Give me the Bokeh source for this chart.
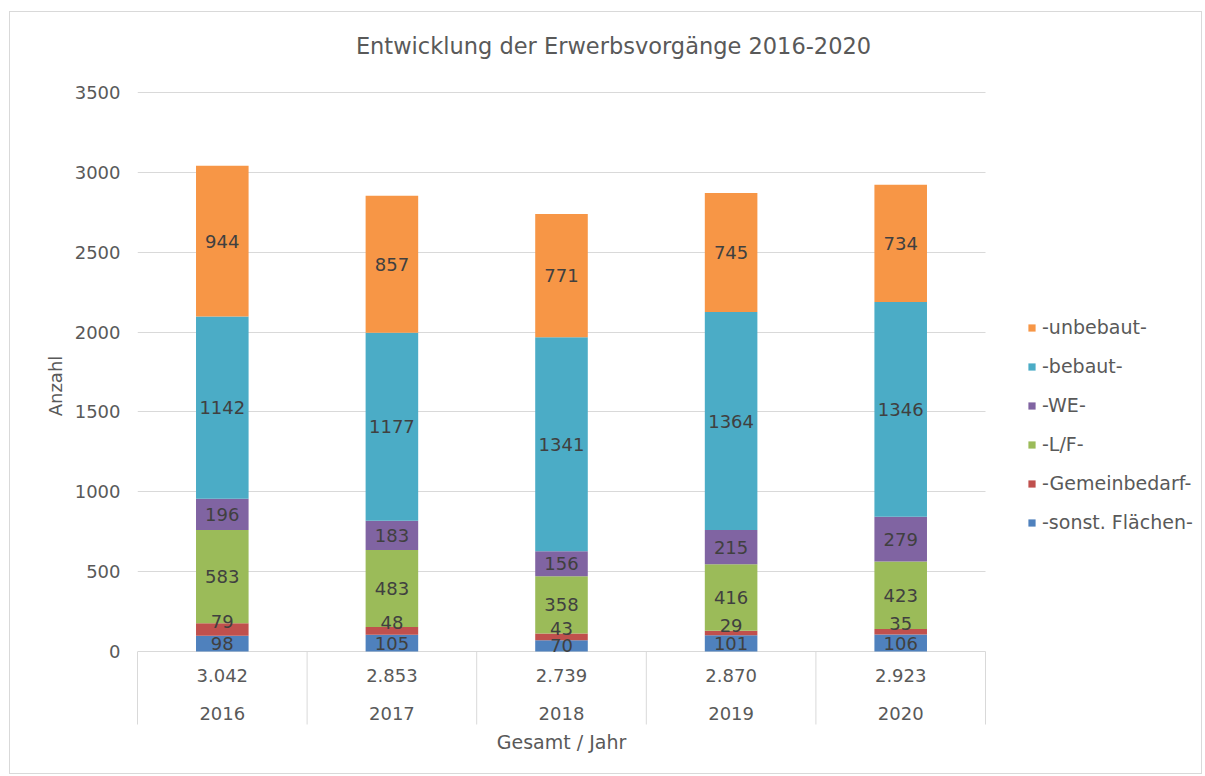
import numpy as np
from bokeh.plotting import figure
from bokeh.models import (ColumnDataSource, Range1d, FixedTicker, Legend, LegendItem,
                          BoxAnnotation)
from bokeh.core.properties import value
from bokeh.embed import file_html
from bokeh.resources import INLINE

# ---- data ----
title_text = "Entwicklung der Erwerbsvorgänge 2016-2020"
x_title = "Gesamt / Jahr"
y_title = "Anzahl"
years = ["2016", "2017", "2018", "2019", "2020"]
sonst = [98, 105, 70, 101, 106]
gemeinbedarf = [79, 48, 43, 29, 35]
lf = [583, 483, 358, 416, 423]
we = [196, 183, 156, 215, 279]
bebaut = [1142, 1177, 1341, 1364, 1346]
unbebaut = [944, 857, 771, 745, 734]
series_names = ["-sonst. Flächen-", "-Gemeinbedarf-", "-L/F-", "-WE-", "-bebaut-", "-unbebaut-"]
y_ticks = [0, 500, 1000, 1500, 2000, 2500, 3000, 3500]

# ---- styles / layout ----
colors = ["#4F81BD", "#C0504D", "#9BBB59", "#8064A2", "#4BACC6", "#F79646"]
FONT = "DejaVu Sans"
TXT = "#595959"
LBL = "#404040"
GRID = "#D9D9D9"
NUM_SIZE = "18px"
WORD_SIZE = "19px"

W, H = 1193, 763            # canvas size
LEFT = 127                  # y-axis panel width
BOTTOM = 16                 # empty space under the frame
PLOT_W = 848                # width of the category area (px)
PLOT_TOP = 80               # px from canvas top to the top tick
PLOT_H = 559                # px between bottom and top tick
CAT_AXIS_PX = 73            # depth of the category separators (px)

n = len(years)
px_per_cat = PLOT_W / n
px_per_unit = PLOT_H / y_ticks[-1]
frame_w = W - LEFT
frame_h = H - BOTTOM
x_start = -0.5
x_end = x_start + frame_w / px_per_cat
y_end = y_ticks[-1] + PLOT_TOP / px_per_unit
y_start = -(frame_h - PLOT_TOP - PLOT_H) / px_per_unit
sep_bottom = -CAT_AXIS_PX / px_per_unit

series = [sonst, gemeinbedarf, lf, we, bebaut, unbebaut]
keys = ["s%d" % i for i in range(len(series))]
xs = list(range(n))
data = {"x": xs}
for k, s in zip(keys, series):
    data[k] = s
src = ColumnDataSource(data)

totals = [int(sum(v)) for v in zip(*series)]
total_labels = [f"{t:,}".replace(",", ".") for t in totals]

p = figure(width=W, height=H,
           x_range=Range1d(x_start, x_end),
           y_range=Range1d(y_start, y_end),
           x_axis_location=None,
           output_backend="svg", toolbar_location=None,
           min_border_left=LEFT, min_border_right=0,
           min_border_top=0, min_border_bottom=BOTTOM)
p.styles = {"border": "1px solid #d9d9d9", "margin-left": "9px", "margin-top": "11px"}
p.outline_line_color = None

renderers = p.vbar_stack(keys, x="x", width=0.31, color=colors, line_color=None, source=src)

# data labels
bottom = np.zeros(n)
for i, s in enumerate(series):
    s = np.array(s, dtype=float)
    mids = bottom + s / 2
    p.text(x=xs, y=list(mids), text=[str(int(v)) for v in s],
           text_align="center", text_baseline="middle",
           text_font=value(FONT), text_font_size=NUM_SIZE, text_color=LBL,
           y_offset=(-8 if i == 1 else 0))
    bottom = bottom + s

# hide grid lines right of the category area (legend zone)
p.add_layout(BoxAnnotation(left=n - 0.5, fill_color="white", fill_alpha=1.0,
                           line_color=None))

# category axis (totals + years) with separators
bounds = [i - 0.5 for i in range(n + 1)]
sep = p.segment(x0=bounds, y0=[0] * len(bounds), x1=bounds,
                y1=[sep_bottom] * len(bounds), line_color=GRID, line_width=1)
sep.level = "overlay"
p.text(x=xs, y=[0] * n, text=total_labels, y_offset=24,
       text_align="center", text_baseline="middle",
       text_font=value(FONT), text_font_size=NUM_SIZE, text_color=TXT)
p.text(x=xs, y=[0] * n, text=years, y_offset=62,
       text_align="center", text_baseline="middle",
       text_font=value(FONT), text_font_size=NUM_SIZE, text_color=TXT)
p.text(x=[(n - 1) / 2], y=[0], text=[x_title], y_offset=90,
       text_align="center", text_baseline="middle",
       text_font=value(FONT), text_font_size=WORD_SIZE, text_color=TXT)

# chart title
p.text(x=[(n - 1) / 2], y=[y_end], text=[title_text], x_offset=52, y_offset=33,
       text_align="center", text_baseline="middle",
       text_font=value(FONT), text_font_size="22.5px", text_color=TXT)

# axes
p.ygrid.ticker = FixedTicker(ticks=y_ticks)
p.ygrid.grid_line_color = GRID
p.xgrid.grid_line_color = None
p.yaxis.ticker = FixedTicker(ticks=y_ticks)
p.yaxis.axis_line_color = None
p.yaxis.major_tick_line_color = None
p.yaxis.minor_tick_line_color = None
p.yaxis.major_label_text_font = FONT
p.yaxis.major_label_text_font_size = NUM_SIZE
p.yaxis.major_label_text_color = TXT
p.yaxis.major_label_standoff = 11
p.yaxis.axis_label = y_title
p.yaxis.axis_label_text_font = FONT
p.yaxis.axis_label_text_font_size = NUM_SIZE
p.yaxis.axis_label_text_font_style = "normal"
p.yaxis.axis_label_text_color = TXT
p.yaxis.axis_label_standoff = 6

items = [LegendItem(label=nm, renderers=[r]) for nm, r in zip(series_names, renderers)][::-1]
legend = Legend(items=items, location=(890, 242 - BOTTOM),
                glyph_width=9, glyph_height=9, label_standoff=6,
                spacing=17, label_height=22, padding=0, margin=0,
                label_text_font=FONT, label_text_font_size=WORD_SIZE,
                label_text_color=TXT, border_line_color=None,
                background_fill_alpha=0)
p.add_layout(legend)

open("out.html", "w").write(file_html(p, INLINE))
